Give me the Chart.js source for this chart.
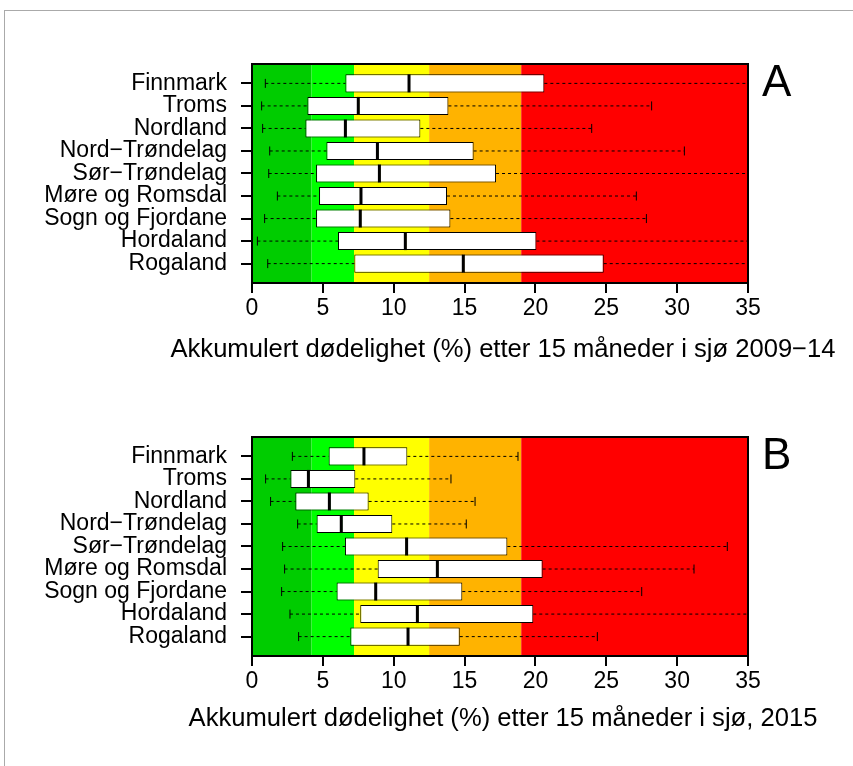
<!DOCTYPE html>
<html>
<head>
<meta charset="utf-8">
<script src="https://cdn.jsdelivr.net/npm/chart.js@4.4.1/dist/chart.umd.min.js"></script>
<style>
  html, body { margin: 0; padding: 0; background: #fff; }
  #page { position: relative; width: 853px; height: 766px; overflow: hidden; }
  #frame { position: absolute; left: 4px; top: 10px; width: 900px; height: 800px;
           border-top: 1px solid #aaa; border-left: 1px solid #aaa; }
  canvas { position: absolute; left: 0; }
</style>
</head>
<body>
<div id="page">
  <div id="frame"></div>
  <canvas id="chartA" width="853" height="373" style="top:0px"></canvas>
  <canvas id="chartB" width="853" height="373" style="top:373px"></canvas>
</div>
<script>
// Regions, listed from the bottom row (1) to the top row (9)
const regions = ['Rogaland', 'Hordaland', 'Sogn og Fjordane', 'Møre og Romsdal',
  'Sør−Trøndelag', 'Nord−Trøndelag', 'Nordland', 'Troms', 'Finnmark'];

// Risk bands along the mortality axis (%)
const bandEdges = [0, 4.2, 7.2, 12.5, 19, 35];
const bandColors = ['#00cc00', '#00ff00', '#ffff00', '#ffb300', '#ff0000'];

const xTicks = [0, 5, 10, 15, 20, 25, 30, 35];

// Panel A: 2009−14 (whisker low, Q1, median, Q3, whisker high)
const lowA  = [1.11, 0.38, 0.89, 1.79, 1.18, 1.25, 0.75, 0.68, 0.94];
const q1A   = [7.22, 6.07, 4.52, 4.73, 4.52, 5.25, 3.77, 3.91, 6.59];
const medA  = [14.91, 10.82, 7.64, 7.69, 8.99, 8.85, 6.59, 7.50, 11.08];
const q3A   = [24.82, 20.07, 14.00, 13.76, 17.22, 15.64, 11.88, 13.86, 20.63];
const highA = [44.0, 41.0, 27.83, 27.12, 37.5, 30.51, 23.97, 28.20, 42.0];

// Panel B: 2015
const lowB  = [3.29, 2.68, 2.09, 2.30, 2.16, 3.22, 1.31, 0.96, 2.85];
const q1B   = [6.94, 7.64, 5.97, 8.87, 6.56, 4.56, 3.06, 2.71, 5.41];
const medB  = [11.01, 11.67, 8.73, 13.08, 10.91, 6.30, 5.46, 3.98, 7.90];
const q3B   = [14.66, 19.85, 14.84, 20.51, 18.02, 9.90, 8.23, 7.29, 10.96];
const highB = [24.37, 37.6, 27.50, 31.19, 33.54, 15.12, 15.74, 14.04, 18.77];

const titleA = 'Akkumulert dødelighet (%) etter 15 måneder i sjø 2009−14';
const titleB = 'Akkumulert dødelighet (%) etter 15 måneder i sjø, 2015';

const FONT = '"Liberation Sans", Arial, sans-serif';
Chart.defaults.font.family = FONT;
Chart.defaults.color = '#000';

const bandsPlugin = {
  id: 'bands',
  beforeDatasetsDraw(chart) {
    const { ctx, chartArea: a, scales: { x } } = chart;
    ctx.save();
    for (let i = 0; i < bandColors.length; i++) {
      const x0 = x.getPixelForValue(bandEdges[i]);
      const x1 = x.getPixelForValue(bandEdges[i + 1]);
      ctx.fillStyle = bandColors[i];
      ctx.fillRect(x0, a.top, x1 - x0, a.bottom - a.top);
    }
    ctx.restore();
  }
};

// Plot frame, panel letter and the axis caption (drawn at full width)
const framePlugin = {
  id: 'frame',
  afterDatasetsDraw(chart) {
    const { ctx, chartArea: a } = chart;
    ctx.save();
    ctx.strokeStyle = '#000';
    ctx.lineWidth = 2;
    ctx.strokeRect(a.left, a.top, a.right - a.left, a.bottom - a.top);
    ctx.restore();
  },
  afterDraw(chart, args, opts) {
    const { ctx, chartArea: a } = chart;
    ctx.save();
    ctx.fillStyle = '#000';
    ctx.textBaseline = 'alphabetic';
    ctx.font = '44px ' + FONT;
    ctx.textAlign = 'left';
    ctx.fillText(opts.letter, a.right + 14, a.top + 32);
    ctx.font = '25.6px ' + FONT;
    ctx.textAlign = 'center';
    ctx.fillText(opts.caption, (a.left + a.right) / 2 + 3, a.bottom + opts.captionGap);
    ctx.restore();
  }
};

function buildPanel(canvasId, low, q1, med, q3, high, caption, letter, captionGap) {
  const rows = regions.map((_, i) => i + 1);
  const whiskers = [];
  rows.forEach((y, i) => {
    whiskers.push({ x: low[i], y }, { x: q1[i], y }, { x: null, y: null });
    whiskers.push({ x: q3[i], y }, { x: high[i], y }, { x: null, y: null });
  });
  const caps = [];
  rows.forEach((y, i) => { caps.push({ x: low[i], y }, { x: high[i], y }); });

  const boxStyle = {
    type: 'bar', grouped: false, backgroundColor: '#fff', borderColor: '#000',
    borderWidth: 1, borderSkipped: false, categoryPercentage: 0.8, barPercentage: 1, order: 2
  };

  return new Chart(document.getElementById(canvasId), {
    type: 'bar',
    data: {
      datasets: [
        { ...boxStyle, data: rows.map((y, i) => ({ x: [q1[i], med[i]], y })) },
        { ...boxStyle, data: rows.map((y, i) => ({ x: [med[i], q3[i]], y })) },
        {
          type: 'line', data: whiskers, borderColor: '#000', borderWidth: 1,
          borderDash: [3, 3], pointRadius: 0, spanGaps: false, order: 3
        },
        {
          type: 'scatter', data: caps, pointStyle: 'line', pointRotation: 90,
          pointRadius: 4.5, pointBorderWidth: 1, pointBorderColor: '#000', order: 1
        },
        {
          type: 'scatter', data: rows.map((y, i) => ({ x: med[i], y })), pointStyle: 'line',
          pointRotation: 90, pointRadius: 9, pointBorderWidth: 3, pointBorderColor: '#000', order: 1
        }
      ]
    },
    options: {
      indexAxis: 'y',
      responsive: false,
      animation: false,
      events: [],
      layout: { padding: { left: 0, top: 64, right: 105, bottom: 0 } },
      plugins: { legend: { display: false }, tooltip: { enabled: false },
                 frame: { letter, caption, captionGap } },
      scales: {
        x: {
          type: 'linear', min: 0, max: 35, offset: false,
          afterBuildTicks: (s) => { s.ticks = xTicks.map((v) => ({ value: v })); },
          afterFit: (s) => { s.height = 90; s.paddingLeft = 0; s.paddingRight = 0; },
          grid: { drawOnChartArea: false, drawTicks: true, tickLength: 10, tickWidth: 2,
                  tickColor: '#000', lineWidth: 2, color: '#000', offset: false },
          border: { display: false },
          ticks: { autoSkip: false, maxRotation: 0, padding: 2, font: { size: 23 }, color: '#000' }
        },
        y: {
          type: 'linear', min: 0.14, max: 9.86, offset: false,
          afterBuildTicks: (s) => { s.ticks = rows.map((v) => ({ value: v })); },
          afterFit: (s) => { s.width = 252; s.paddingTop = 0; s.paddingBottom = 0; },
          grid: { drawOnChartArea: false, drawTicks: true, tickLength: 11, tickWidth: 2,
                  tickColor: '#000', lineWidth: 2, color: '#000', offset: false },
          border: { display: false },
          ticks: { autoSkip: false, padding: 14, font: { size: 23 }, color: '#000',
                   callback: (v) => regions[Math.round(v) - 1] }
        }
      }
    },
    plugins: [bandsPlugin, framePlugin]
  });
}

buildPanel('chartA', lowA, q1A, medA, q3A, highA, titleA, 'A', 74);
buildPanel('chartB', lowB, q1B, medB, q3B, highB, titleB, 'B', 70);
</script>
</body>
</html>
